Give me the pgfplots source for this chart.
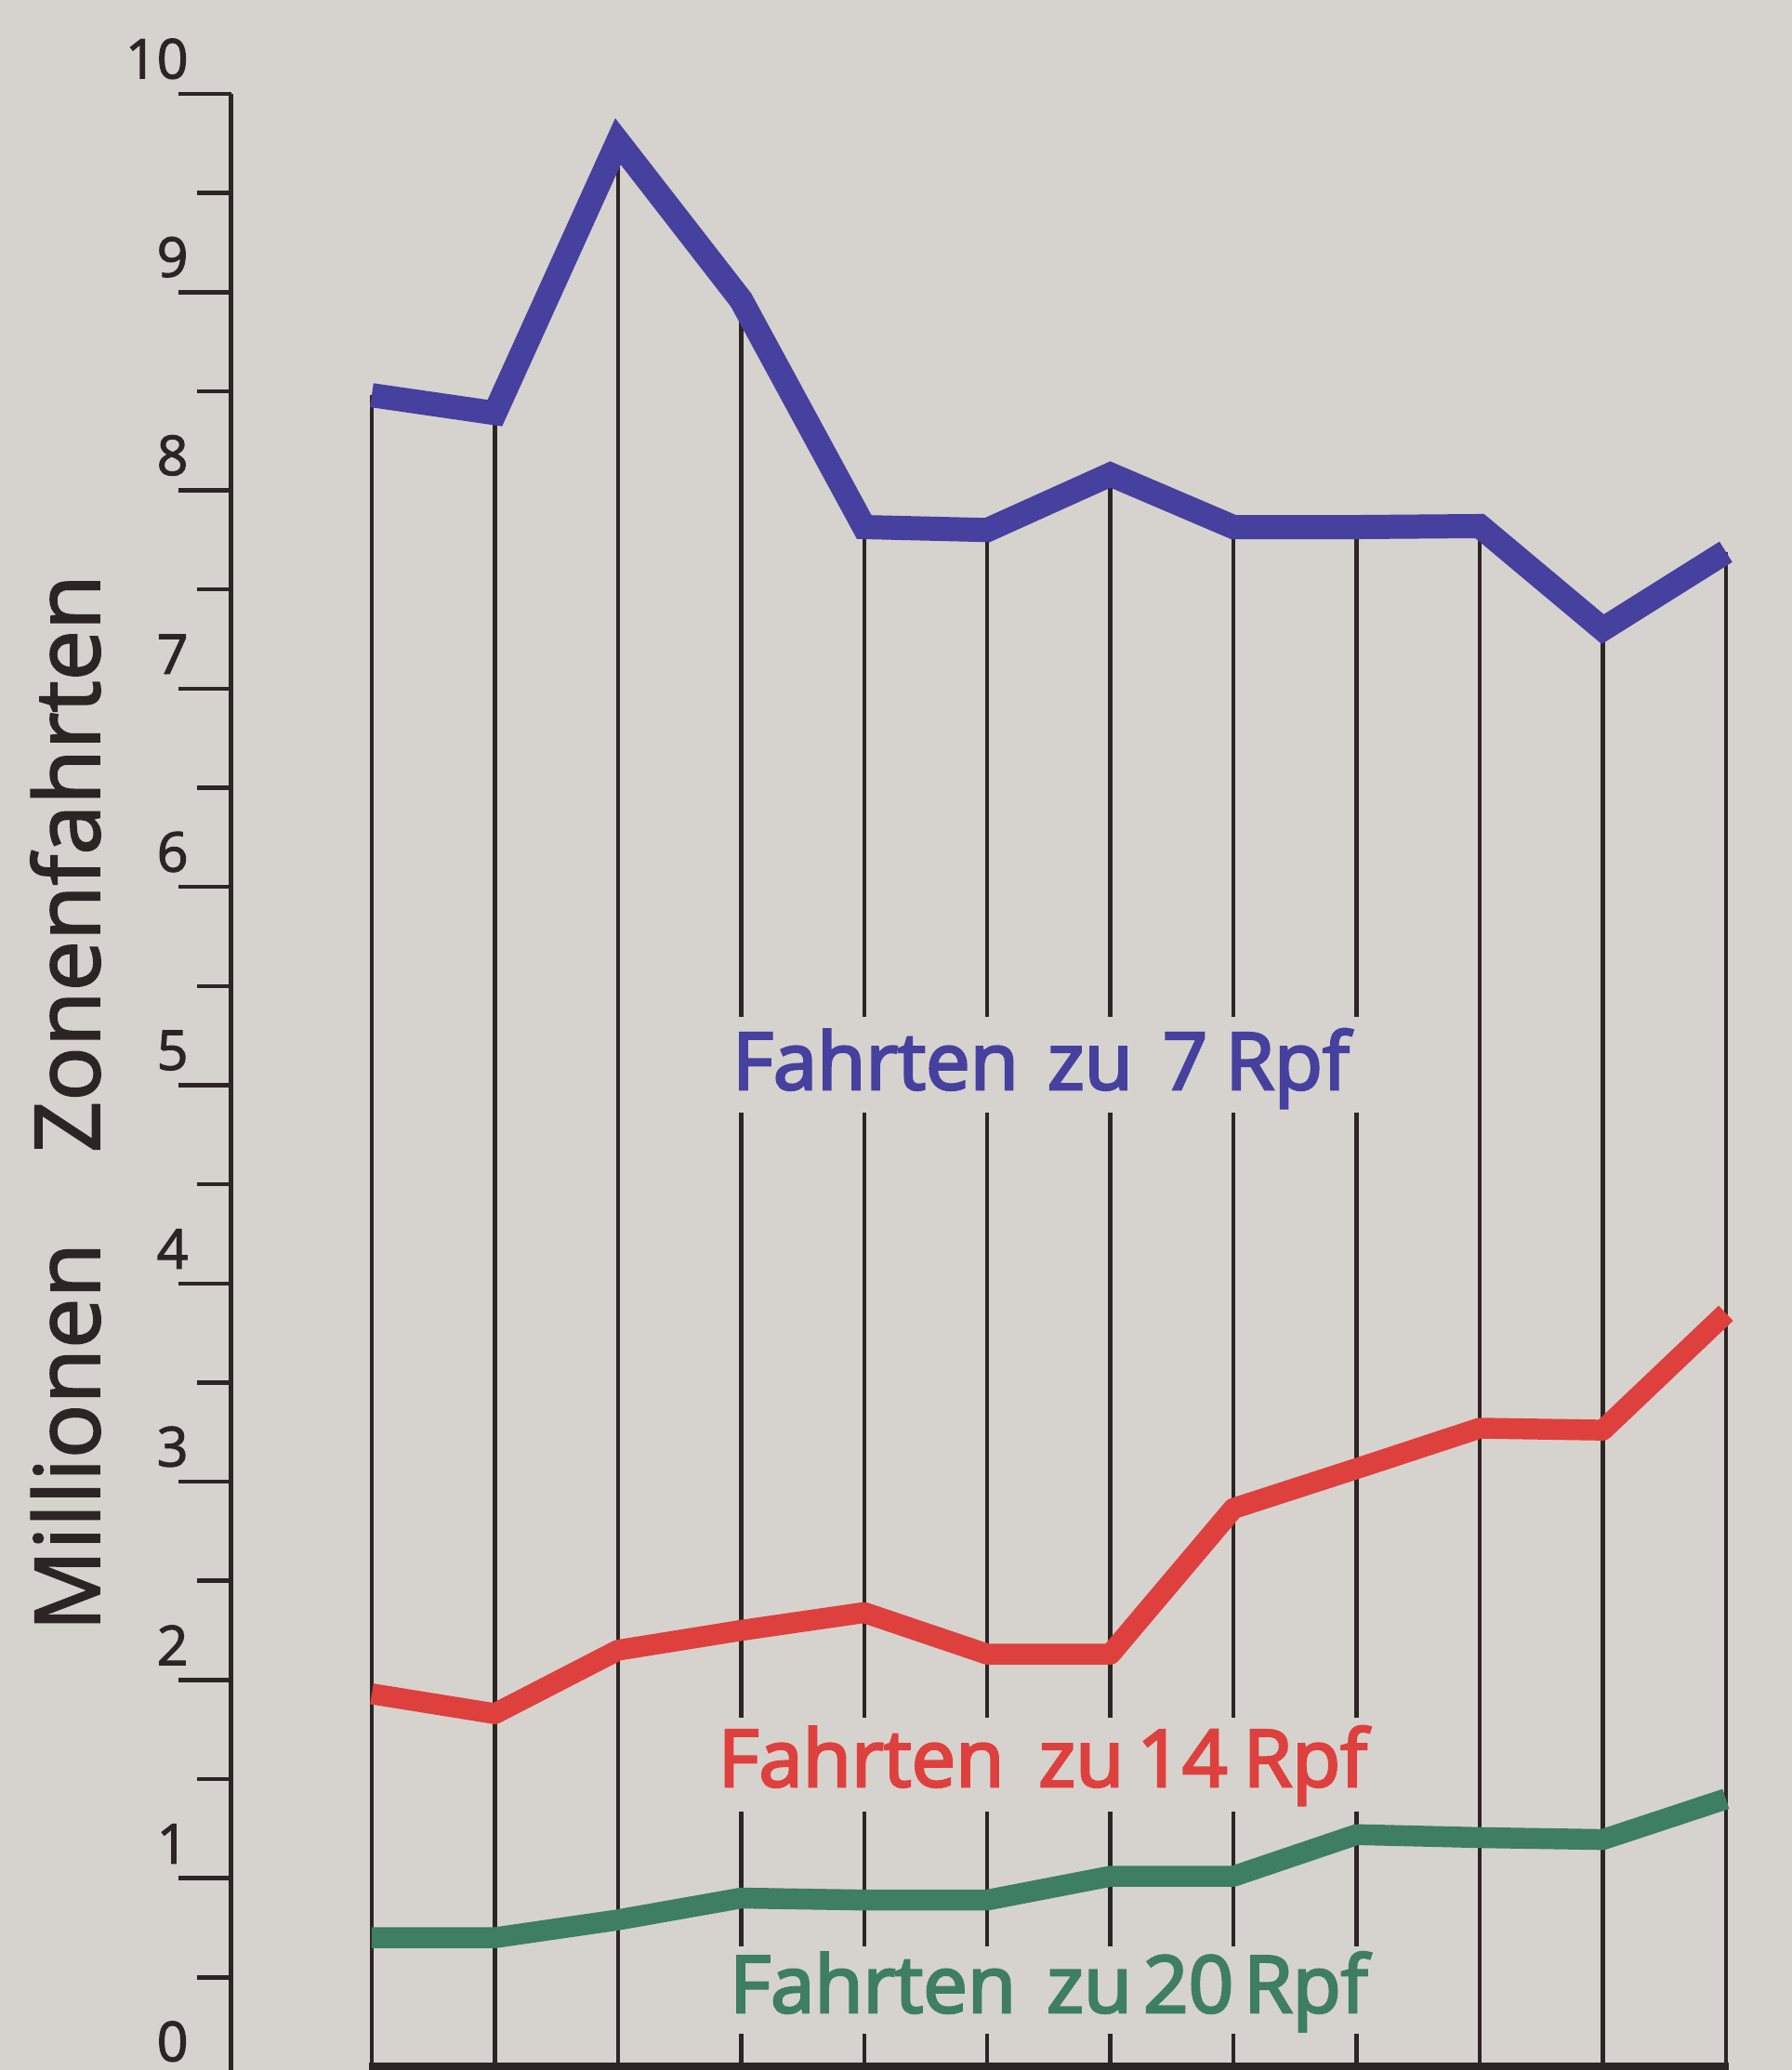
\documentclass[border=0pt]{standalone}
\usepackage{fontspec}
\setmainfont{Open Sans}[FakeBold=2]
\newfontfamily\labfont{Open Sans}[FakeBold=3.2]
\usepackage{pgfplots}
\usepackage{pgfplotstable}
\pgfplotsset{compat=1.18}
\usetikzlibrary{backgrounds}
\definecolor{bg}{HTML}{D6D3CE}
\definecolor{ink}{HTML}{2B2523}
\definecolor{cblue}{HTML}{46409E}
\definecolor{cred}{HTML}{DE403E}
\definecolor{cgreen}{HTML}{3E7E63}

\pgfplotstableread{
x b r g
0 8.48 1.93 0.70
1 8.39 1.83 0.70
2 9.76 2.15 0.79
3 8.96 2.25 0.90
4 7.815 2.34 0.89
5 7.80 2.13 0.89
6 8.08 2.13 1.01
7 7.815 2.865 1.01
8 7.815 3.066 1.22
9 7.82 3.27 1.205
10 7.30 3.26 1.195
11 7.69 3.85 1.40
}\data

\begin{document}
\begin{tikzpicture}
\begin{axis}[
  scale only axis,
  width=321.6pt, height=430.9pt,
  xmin=-1.14, xmax=11, ymin=-0.1, ymax=10,
  clip=false,
  axis x line=none,
  axis y line*=left,
  axis line style={ink, line width=1pt},
  ytick={0,1,...,10},
  minor ytick={0.5,1.5,...,9.5},
  tick align=outside,
  major tick length=11.4pt,
  minor tick length=7.4pt,
  tick style={ink, line width=0.9pt},
  /pgf/number format/assume math mode=true,
  yticklabel style={anchor=south east, inner sep=0pt, font=\fontsize{11.8}{12}\selectfont, text=ink, xshift=2.3pt, yshift=3pt},
]
\coordinate (bl) at (axis cs:-3.020,0.0328);
\coordinate (tr) at (axis cs:11.536,10.4735);

\addplot[ycomb, ink, line width=0.9pt, mark=none] table[x=x,y=b] {\data};

\node[anchor=base, fill=bg, text height=15.5pt, text depth=5pt, inner xsep=4pt, inner ysep=0pt,
      font=\labfont\fontsize{17}{18}\selectfont, text=cblue] at (axis cs:5.436,4.979)
      {Fahrten\hspace{6.2pt}zu\hspace{6.4pt}7\hspace{3.8pt}Rpf};
\node[anchor=base, fill=bg, text height=14.8pt, text depth=5.5pt, inner xsep=4pt, inner ysep=0pt,
      font=\labfont\fontsize{17}{18}\selectfont, text=cred] at (axis cs:5.45,1.463)
      {Fahrten\hspace{7.4pt}zu\hspace{2.8pt}14\hspace{3.4pt}Rpf};
\node[anchor=base, fill=bg, text height=14.2pt, text depth=4.5pt, inner xsep=4pt, inner ysep=0pt,
      font=\labfont\fontsize{17}{18}\selectfont, text=cgreen] at (axis cs:5.50,0.323)
      {Fahrten\hspace{6.6pt}zu\hspace{2.4pt}20\hspace{2.2pt}Rpf};

\addplot[ink, line width=6pt, line cap=butt, mark=none] coordinates {(-0.019,0) (11.02,0)};

\addplot[cgreen, line width=4.5pt, line cap=butt, line join=round, mark=none] table[x=x,y=g] {\data};
\addplot[cred, line width=4.5pt, line cap=butt, line join=round, mark=none] table[x=x,y=r] {\data};
\addplot[cblue, line width=5.2pt, line cap=butt, line join=miter, mark=none] table[x=x,y=b] {\data};

\node[rotate=90, anchor=base, font=\fontsize{19.4}{21}\selectfont, text=ink] at (axis cs:-2.212,4.91)
      {Millionen\hspace{1em}Zonenfahrten};
\end{axis}
\begin{pgfonlayer}{background}
\fill[bg] (bl) rectangle (tr);
\end{pgfonlayer}
\pgfresetboundingbox
\useasboundingbox (bl) rectangle (tr);
\end{tikzpicture}
\end{document}
